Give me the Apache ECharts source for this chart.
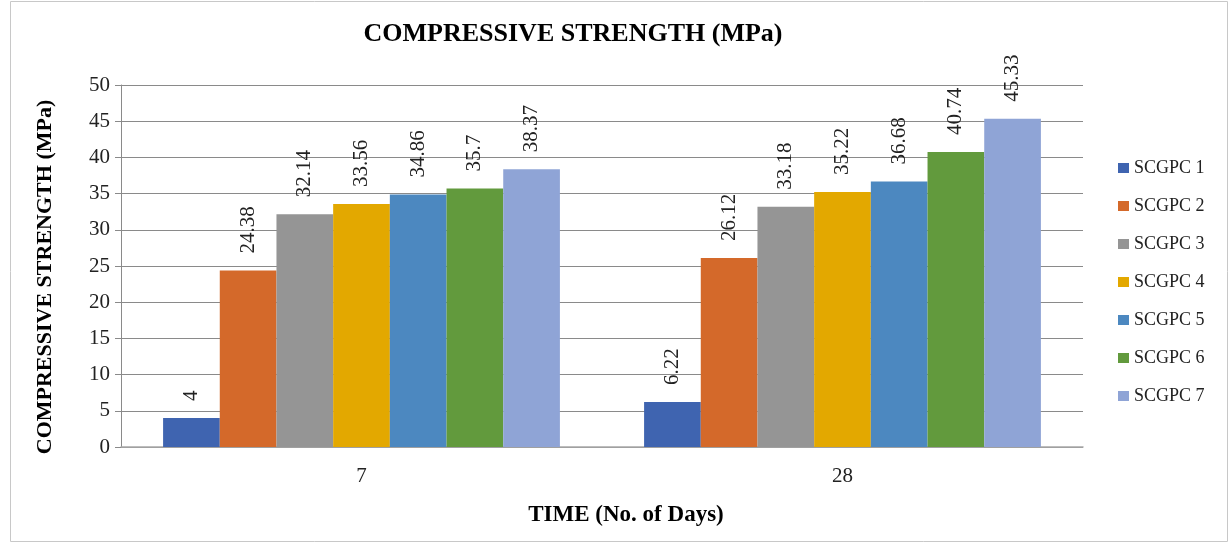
<!DOCTYPE html>
<html><head><meta charset="utf-8">
<script src="https://cdn.jsdelivr.net/npm/echarts@6/dist/echarts.min.js"></script>
<style>html,body{margin:0;padding:0;background:#fff}#c{width:1230px;height:545px}</style>
</head><body><div id="c"></div>
<script>
const categories = ['7', '28'];
const seriesNames = ['SCGPC 1','SCGPC 2','SCGPC 3','SCGPC 4','SCGPC 5','SCGPC 6','SCGPC 7'];
const scgpc1 = [4, 6.22];
const scgpc2 = [24.38, 26.12];
const scgpc3 = [32.14, 33.18];
const scgpc4 = [33.56, 35.22];
const scgpc5 = [34.86, 36.68];
const scgpc6 = [35.7, 40.74];
const scgpc7 = [38.37, 45.33];
const colors = ['#3F64B0','#D4692A','#959595','#E3A800','#4C88C0','#629A3D','#8FA4D6'];
const values = [scgpc1, scgpc2, scgpc3, scgpc4, scgpc5, scgpc6, scgpc7];

const chart = echarts.init(document.getElementById('c'), null, {renderer:'canvas'});
const serif = '"Liberation Serif", "DejaVu Serif", serif';
chart.setOption({
  animation: false,
  color: colors,
  title: {
    text: 'COMPRESSIVE STRENGTH (MPa)',
    left: 568, top: 16, textAlign: 'center',
    textStyle: {fontFamily: serif, fontWeight: 'bold', fontSize: 26, color: '#000'}
  },
  graphic: [{
    type: 'rect', shape: {x: 10.5, y: 1.5, width: 1217, height: 540},
    style: {fill: 'none', stroke: '#c8c8c8', lineWidth: 1}, z: -1
  }],
  legend: {
    orient: 'vertical', left: 1113, top: 154, itemGap: 20,
    itemWidth: 11, itemHeight: 10, icon: 'rect',
    textStyle: {fontFamily: serif, fontSize: 18, color: '#222'},
    data: seriesNames
  },
  grid: {left: 121, right: 147, top: 85, bottom: 98, containLabel: false},
  xAxis: {
    type: 'category', data: categories,
    name: 'TIME (No. of Days)', nameLocation: 'middle', nameGap: 57,
    nameTextStyle: {fontFamily: serif, fontWeight: 'bold', fontSize: 23, color: '#000', padding: [0, 0, 0, 48]},
    axisLine: {lineStyle: {color: '#a8a8a8', width: 1.5}},
    axisTick: {show: false},
    axisLabel: {fontFamily: serif, fontSize: 21, color: '#222', margin: 19}
  },
  yAxis: {
    type: 'value', min: 0, max: 50, interval: 5,
    name: 'COMPRESSIVE STRENGTH (MPa)', nameLocation: 'middle', nameGap: 65,
    nameTextStyle: {fontFamily: serif, fontWeight: 'bold', fontSize: 22, color: '#000', padding: [0, 22, 0, 0]},
    axisLine: {show: true, lineStyle: {color: '#8a8a8a'}},
    axisTick: {show: true, length: 6, lineStyle: {color: '#8a8a8a'}},
    axisLabel: {fontFamily: serif, fontSize: 21, color: '#222', margin: 11},
    splitLine: {lineStyle: {color: '#8a8a8a'}}
  },
  series: seriesNames.map((n, i) => ({
    name: n, type: 'bar', data: values[i],
    barGap: '0%', barCategoryGap: '17.5%',
    itemStyle: {color: colors[i]},
    label: {
      show: true, position: 'top', rotate: 90, align: 'left', verticalAlign: 'middle',
      distance: 17, fontFamily: serif, fontSize: 21, color: '#222'
    }
  }))
});
</script></body></html>
